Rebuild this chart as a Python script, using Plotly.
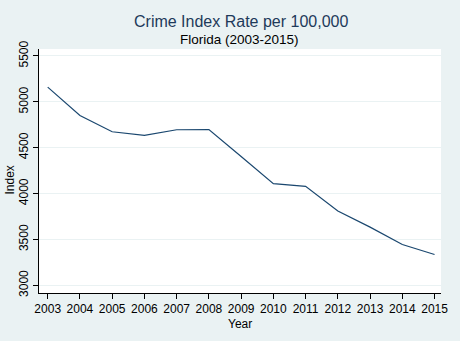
import plotly.graph_objects as go

years = [2003, 2004, 2005, 2006, 2007, 2008, 2009, 2010, 2011, 2012, 2013, 2014, 2015]
index_rate = [5160, 4851, 4674, 4634, 4696, 4697, 4405, 4109, 4079, 3811, 3635, 3446, 3337]
y_ticks = [3000, 3500, 4000, 4500, 5000, 5500]

bg = "#EAF2F3"
navy = "#1A476F"

L, R, T, B = 39, 12, 49, 48
W, H = 460, 341
pw = W - L - R
ph = H - T - B


def px_x(x):
    return (x - L) / pw


def px_y(y):
    return (H - B - y) / ph


fig = go.Figure()
fig.add_trace(go.Scatter(x=years, y=index_rate, mode="lines",
                         line=dict(color=navy, width=1.2), hoverinfo="skip"))

fig.update_layout(
    width=W, height=H,
    margin=dict(l=L, r=R, t=T, b=B),
    paper_bgcolor=bg, plot_bgcolor="white",
    showlegend=False,
    font=dict(family="Liberation Sans, Arial", size=12, color="black"),
    xaxis=dict(range=[2002.73, 2015.2], tickmode="array", tickvals=years,
               showgrid=False, zeroline=False, showline=True, linecolor="black",
               linewidth=1, ticks="outside", ticklen=5, tickcolor="black",
               tickfont=dict(size=12, color="black")),
    yaxis=dict(range=[2917, 5576], tickmode="array", tickvals=y_ticks,
               showgrid=True, gridcolor=bg, gridwidth=1, zeroline=False,
               showline=True, linecolor="black", linewidth=1,
               ticks="outside", ticklen=5, tickcolor="black", tickangle=-90,
               tickfont=dict(size=12, color="black")),
    annotations=[
        dict(text="Crime Index Rate per 100,000", x=px_x(244.5), y=px_y(21.5),
             xref="paper", yref="paper", xanchor="center", yanchor="middle",
             showarrow=False, font=dict(size=16, color="#1E3A5A")),
        dict(text="Florida (2003-2015)", x=px_x(243), y=px_y(39.5),
             xref="paper", yref="paper", xanchor="center", yanchor="middle",
             showarrow=False, font=dict(size=13.5, color="black")),
        dict(text="Year", x=px_x(243), y=px_y(323.5),
             xref="paper", yref="paper", xanchor="center", yanchor="middle",
             showarrow=False, font=dict(size=12, color="black")),
        dict(text="Index", x=px_x(10), y=px_y(180),
             xref="paper", yref="paper", xanchor="center", yanchor="middle",
             textangle=-90, showarrow=False, font=dict(size=12, color="black")),
    ],
)

fig.write_html("out.html")
